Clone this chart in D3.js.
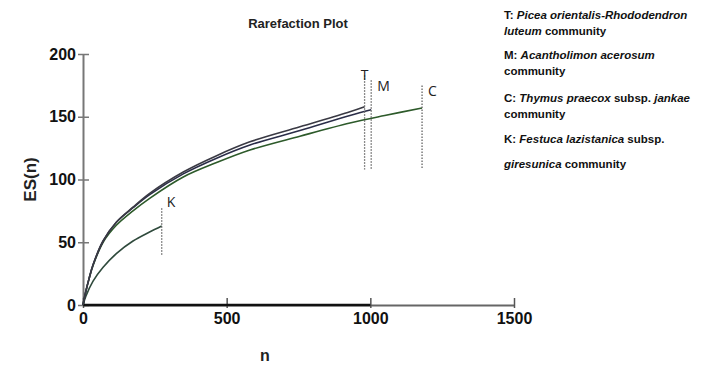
<!DOCTYPE html>
<html>
<head>
<meta charset="utf-8">
<script src="https://cdn.jsdelivr.net/npm/d3@7"></script>
<style>
  body { margin: 0; background: #fff; }
  svg text { font-family: "Liberation Sans", Arial, sans-serif; }
  .legend text { font-size: 11.5px; font-weight: bold; fill: #111; }
</style>
</head>
<body>
<div id="chart"></div>
<script>
// sample sizes (n) and expected species ES(n)
const T_N  = [0, 10, 20, 35, 70, 116, 174, 232, 349, 465, 581, 755, 929, 980];
const T_ES = [0, 11, 20, 32, 51, 66, 78, 89, 106, 119, 130, 142, 154, 158];

const M_N  = [0, 10, 20, 35, 70, 116, 174, 232, 349, 465, 581, 755, 929, 1003];
const M_ES = [0, 11, 20, 32, 51, 66, 77.5, 88, 104.5, 117, 127.5, 139, 151, 155.5];

const C_N  = [0, 10, 20, 35, 70, 116, 174, 232, 349, 465, 581, 755, 929, 1050, 1180];
const C_ES = [0, 11, 20, 31.5, 50, 63.5, 75, 85, 102, 113.5, 123.5, 134.5, 145, 151, 157];

const K_N  = [0, 10, 35, 70, 116, 174, 230, 274];
const K_ES = [0, 7, 19, 30, 41, 51, 58, 63];

// end markers: label, n, top and bottom of the dotted line (in ES units)
const MARK_LABELS = ["T", "M", "C", "K"];
const MARK_N      = [980, 1003, 1180, 274];
const MARK_TOP    = [183, 179, 175, 77];
const MARK_BOTTOM = [108, 108, 108, 39];

const X_TICKS = [0, 500, 1000, 1500];
const Y_TICKS = [0, 50, 100, 150, 200];

var width = 708,
    height = 365;

var svg = d3.select("#chart").append("svg")
  .attr("width", width)
  .attr("height", height);

const x = d3.scaleLinear().domain([0, 1500]).range([83, 514]);
const y = d3.scaleLinear().domain([0, 200]).range([305, 54]);

// title
svg.append("text")
  .attr("x", 298).attr("y", 28)
  .attr("text-anchor", "middle")
  .style("font-size", "13px").style("font-weight", "bold")
  .attr("fill", "#222")
  .text("Rarefaction Plot");

// axes
var yAxis = svg.append("g")
  .attr("transform", "translate(" + x(0) + ",0)")
  .call(d3.axisLeft(y).tickValues(Y_TICKS).tickFormat(d3.format("d"))
    .tickSize(6).tickSizeOuter(0).tickPadding(3));
yAxis.select(".domain").attr("stroke", "#777").attr("stroke-width", 2);
yAxis.selectAll(".tick line").attr("stroke", "#777").attr("stroke-width", 1.5).attr("x2", 6).attr("x1", -5);
yAxis.selectAll(".tick text")
  .style("font-size", "16px").style("font-weight", "bold").attr("fill", "#111")
  .attr("x", -7);

var xAxis = svg.append("g")
  .attr("transform", "translate(0," + y(0) + ")")
  .call(d3.axisBottom(x).tickValues(X_TICKS).tickFormat(d3.format("d"))
    .tickSize(6).tickSizeOuter(0).tickPadding(4));
xAxis.select(".domain").attr("stroke", "#666").attr("stroke-width", 2);
xAxis.selectAll(".tick line").attr("stroke", "#555").attr("stroke-width", 1.5).attr("y1", -7).attr("y2", 3);
xAxis.selectAll(".tick text")
  .style("font-size", "16px").style("font-weight", "bold").attr("fill", "#111")
  .attr("y", 8);

// black part of x axis under the curves' range
svg.append("line")
  .attr("x1", x(0)).attr("x2", x(1000))
  .attr("y1", y(0)).attr("y2", y(0))
  .attr("stroke", "#111").attr("stroke-width", 2.5);

// axis titles
svg.append("text")
  .attr("x", 265).attr("y", 361)
  .attr("text-anchor", "middle")
  .style("font-size", "16px").style("font-weight", "bold").attr("fill", "#222")
  .text("n");

svg.append("text")
  .attr("transform", "translate(36," + y(100) + ") rotate(-90)")
  .attr("text-anchor", "middle")
  .style("font-size", "17px").style("font-weight", "bold").attr("fill", "#222")
  .text("ES(n)");

// curves
const line = d3.line()
  .x(d => x(d[0]))
  .y(d => y(d[1]))
  .curve(d3.curveCatmullRom.alpha(0.5));

var series = [
  {n: K_N, es: K_ES, color: "#2f4a3c"},
  {n: C_N, es: C_ES, color: "#2d5a2a"},
  {n: M_N, es: M_ES, color: "#2a2d48"},
  {n: T_N, es: T_ES, color: "#3a3a44"}
];

svg.append("g")
  .selectAll("path")
  .data(series)
  .join("path")
    .attr("d", d => line(d.n.map((v, i) => [v, d.es[i]])))
    .attr("fill", "none")
    .attr("stroke", d => d.color)
    .attr("stroke-width", 1.6);

// dotted end markers and labels
var marks = MARK_LABELS.map((l, i) => ({label: l, n: MARK_N[i], top: MARK_TOP[i], bottom: MARK_BOTTOM[i]}));
svg.append("g")
  .selectAll("line")
  .data(marks)
  .join("line")
    .attr("x1", d => x(d.n)).attr("x2", d => x(d.n))
    .attr("y1", d => y(d.top)).attr("y2", d => y(d.bottom))
    .attr("stroke", "#666").attr("stroke-width", 1.3)
    .attr("stroke-dasharray", "1.5,1.5");

var labelDx = {T: 0, M: 6, C: 6, K: 5};
var labelDy = {T: 5, M: 11, C: 11, K: -1};
svg.append("g")
  .selectAll("text")
  .data(marks)
  .join("text")
    .attr("x", d => x(d.n) + labelDx[d.label])
    .attr("y", d => y(d.top) + labelDy[d.label])
    .attr("text-anchor", d => d.label === "T" ? "middle" : "start")
    .style("font-family", "'Open Sans', 'DejaVu Sans', sans-serif")
    .style("font-size", "14px")
    .attr("fill", "#222")
    .text(d => d.label);

// legend
var legendLines = [
  [["T: ", false], ["Picea orientalis-Rhododendron", true]],
  [["luteum", true], [" community", false]],
  [["M: ", false], ["Acantholimon acerosum", true]],
  [["community", false]],
  [["C: ", false], ["Thymus praecox", true], [" subsp. ", false], ["jankae", true]],
  [["community", false]],
  [["K: ", false], ["Festuca lazistanica", true], [" subsp.", false]],
  [["giresunica", true], [" community", false]]
];
var legendY = [19, 35, 59, 75, 102, 118, 143, 168];

var legend = svg.append("g").attr("class", "legend");
legendLines.forEach((parts, i) => {
  var t = legend.append("text")
    .attr("x", 504)
    .attr("y", legendY[i]);
  parts.forEach(p => {
    t.append("tspan")
      .style("font-style", p[1] ? "italic" : "normal")
      .text(p[0]);
  });
});
</script>
</body>
</html>
